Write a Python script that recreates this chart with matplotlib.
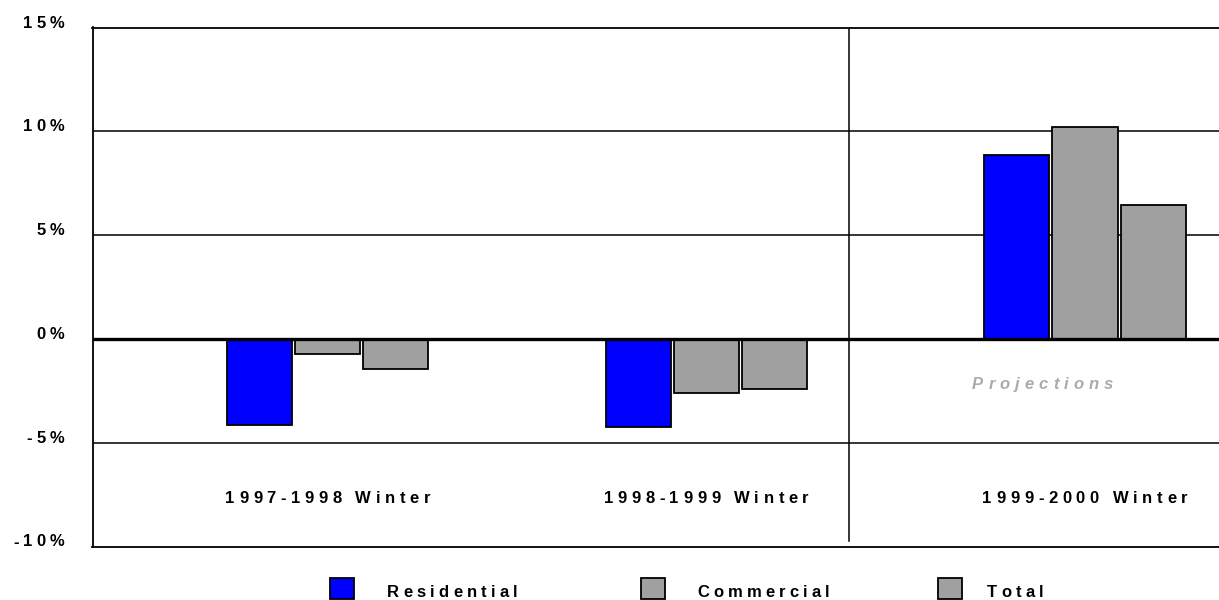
import matplotlib
matplotlib.use("Agg")
import matplotlib.pyplot as plt
import matplotlib.transforms as mtransforms
from matplotlib.patches import Rectangle
from matplotlib.font_manager import FontProperties, findfont, get_font
import numpy as np

# ---------------- data ----------------
categories = ["1997-1998 Winter", "1998-1999 Winter", "1999-2000 Winter"]
series_names = ["Residential", "Commercial", "Total"]
residential = [-4.15, -4.23, 8.87]
commercial = [-0.75, -2.60, 10.23]
total = [-1.45, -2.41, 6.46]
ytick_values = [-10, -5, 0, 5, 10, 15]
ytick_labels = ["-10%", "-5%", "0%", "5%", "10%", "15%"]
annotation = "Projections"

colors = ["#0000FF", "#A0A0A0", "#A0A0A0"]

W, H = 1219, 600
fig = plt.figure(figsize=(W / 100, H / 100), dpi=100)
fig.patch.set_facecolor("white")

ax_left, ax_right = 92.5, 1219
ax_top, ax_bot = 27.5, 546.5
ax = fig.add_axes([ax_left / W, (H - ax_bot) / H, (ax_right - ax_left) / W, (ax_bot - ax_top) / H])

ax.set_ylim(-10, 15)
ax.set_xlim(-0.621, 2.354)

x = np.arange(len(categories))
offsets = [-0.18, 0.0, 0.18]
bw = 0.172
for vals, off, col in zip([residential, commercial, total], offsets, colors):
    ax.bar(x + off, vals, width=bw, color=col, edgecolor="black", linewidth=1.3, zorder=3)

# grid
ax.set_yticks(ytick_values)
ax.set_yticklabels([])
ax.tick_params(axis="both", length=0)
ax.set_xticks([])
for v in ytick_values:
    if v in (0, -10, 15):
        continue
    ax.axhline(v, color="black", lw=1.1, zorder=1)
ax.axhline(0, color="black", lw=2.4, zorder=4)

for side in ["left", "bottom", "top"]:
    ax.spines[side].set_linewidth(1.3)
    ax.spines[side].set_color("black")
ax.spines["right"].set_visible(False)

# divider between actuals and projections
ax.axvline(1.377, ymin=0.01, ymax=1.0, color="black", lw=1.1, zorder=2)


# ---------------- tracked text helper ----------------
def tracked_text(xp, yp, s, transform, size=12, track=3.0, ha="center",
                 style="normal", color="black"):
    prop = FontProperties(family=["Liberation Sans", "DejaVu Sans"], weight="bold",
                          style=style, size=size)
    font = get_font(findfont(prop))
    font.set_size(size, 72)
    widths = []
    for c in s:
        g = font.load_char(ord(c))
        widths.append(g.linearHoriAdvance / 65536.0)
    tot = sum(widths) + track * (len(s) - 1)
    cur = {"left": 0.0, "center": -tot / 2.0, "right": -tot}[ha]
    for c, w in zip(s, widths):
        tr = mtransforms.offset_copy(transform, fig=fig, x=cur, y=0, units="points")
        fig.text(xp, yp, c, transform=tr, fontproperties=prop, ha="left",
                 va="baseline", color=color)
        cur += w + track


# y tick labels (baseline on gridline, right-aligned at x=64px)
ytrans = mtransforms.blended_transform_factory(fig.transFigure, ax.transData)
for v, lab in zip(ytick_values, ytick_labels):
    tracked_text(64.5 / W, v, lab, ytrans, size=12, track=3.0, ha="right")

# category labels
ctrans = mtransforms.blended_transform_factory(ax.transData, fig.transFigure)
for xi, cat in zip(x, categories):
    tracked_text(xi, (H - 503) / H, cat, ctrans, size=12, track=3.3, ha="center")

# Projections annotation
tracked_text(1042.5 / W, (H - 389) / H, annotation, fig.transFigure, size=12,
             track=3.6, ha="center", style="italic", color="#ABABAB")

# legend
sq_x = [330, 641, 938]
tx_x = [387, 697, 987]
for sx, tx, name, col in zip(sq_x, tx_x, series_names, colors):
    fig.patches.append(Rectangle((sx / W, (H - 599) / H), 24 / W, 21 / H,
                                 transform=fig.transFigure, facecolor=col,
                                 edgecolor="black", linewidth=1.3))
    tracked_text(tx / W, (H - 597) / H, name, fig.transFigure, size=12, track=3.0,
                 ha="left")

fig.savefig("out.png", dpi=100, facecolor="white")
